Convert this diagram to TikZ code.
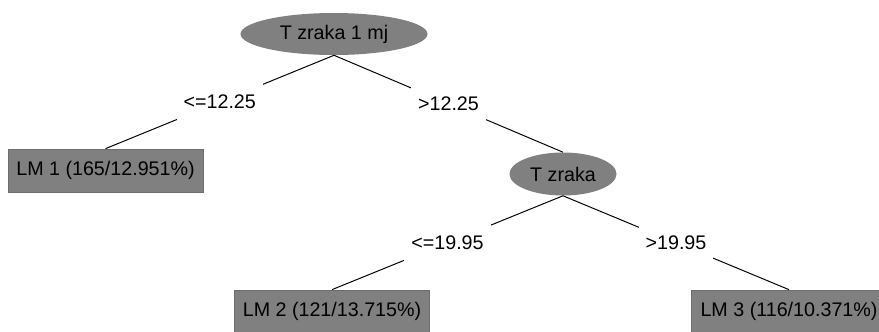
\documentclass[tikz,border=0pt]{standalone}
\usepackage{fontspec}
\setmainfont{Liberation Sans}
\usepackage{xcolor}
\usepackage{tikz}
\usetikzlibrary{shapes,positioning,shapes.geometric}
\definecolor{nodegray}{RGB}{128,128,128}

\begin{document}
\begin{tikzpicture}[x=0.025cm, y=-0.025cm,
  font=\fontsize{14}{16}\selectfont,
  splitnode/.style={ellipse, fill=nodegray, inner sep=0pt, align=center},
  leafnode/.style={rectangle, fill=nodegray, draw=nodegray!85!black, line width=0.5pt, inner sep=0pt, minimum width=4.875cm, minimum height=1.075cm},
  branch/.style={line width=0.7pt},
  condlabel/.style={fill=white, inner xsep=5pt, inner ysep=0pt, minimum height=1cm}
]
\useasboundingbox (0,0) rectangle (879,331);

% Split nodes
\node[splitnode, minimum width=4.675cm, minimum height=1.05cm] (tzrakamj) at (334,34) {T zraka 1 mj};
\node[splitnode, minimum width=2.675cm, minimum height=1.075cm] (tzraka) at (563,174) {T zraka};

% Leaves
\node[leafnode] (lm1) at (105.5,170.5) {LM 1 (165/12.951\%)};
\node[leafnode] (lm2) at (332,311.5) {LM 2 (121/13.715\%)};
\node[leafnode] (lm3) at (789,311.5) {LM 3 (116/10.371\%)};

% Branches
\draw[branch] (tzrakamj.south) -- node[condlabel] {<=12.25} (lm1.north);
\draw[branch] (tzrakamj.south) -- node[condlabel] {>12.25} (tzraka.north);
\draw[branch] (tzraka.south) -- node[condlabel] {<=19.95} (lm2.north);
\draw[branch] (tzraka.south) -- node[condlabel] {>19.95} (lm3.north);

\end{tikzpicture}
\end{document}
